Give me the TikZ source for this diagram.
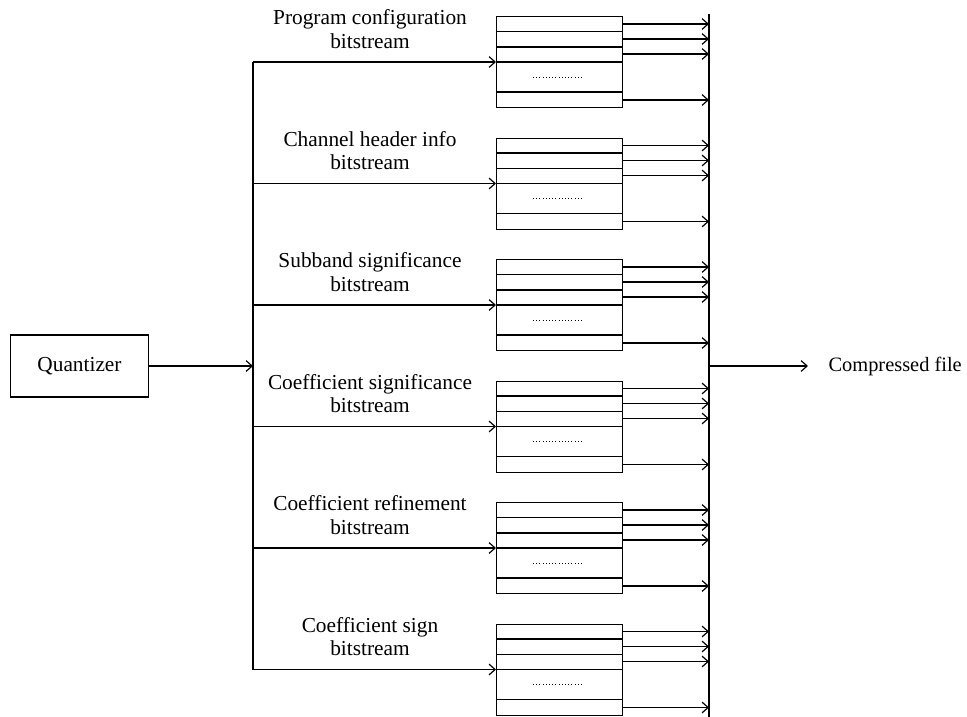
\documentclass[tikz,border=0pt]{standalone}
\usepackage{fontspec}
\setmainfont{Liberation Serif}
\usetikzlibrary{arrows.meta,calc}

\begin{document}
\begin{tikzpicture}[
   x=0.75pt, y=-0.75pt,
   line width=0.9pt,
   font=\fontsize{16}{17.5}\selectfont,
   >={Straight Barb[length=4.5pt,width=8pt]},
   quantbox/.style={draw, rectangle, minimum width=103pt, minimum height=46.5pt,
                    inner sep=0},
   bufbox/.style={draw, rectangle, anchor=north west, minimum width=94.5pt,
                  minimum height=68.25pt, inner sep=0},
   streamlabel/.style={align=center, inner sep=0}
  ]
  \useasboundingbox (0,0) rectangle (967,717);

  % Branch spacing
  \pgfmathsetmacro{\d}{121.5}

  \node (quant) at (79.5,366) [quantbox] {Quantizer};
  \coordinate (lbus) at (253,366);
  \coordinate (rtop) at (709,14);
  \coordinate (rbot) at (709,717);
  \coordinate (rmid) at (709,366);
  \node (out) at (808,366) [anchor=west, inner ysep=0, inner xsep=15pt,
                            font=\fontsize{15.3}{17.5}\selectfont] {Compressed file};

  \foreach \i/\txt in {0/{Program configuration\\bitstream},
                       1/{Channel header info\\bitstream},
                       2/{Subband significance\\bitstream},
                       3/{Coefficient significance\\bitstream},
                       4/{Coefficient refinement\\bitstream},
                       5/{Coefficient sign\\bitstream}} {
    \pgfmathsetmacro{\yb}{62 + \i * \d}
    \node (buf\i) at (496, \yb - 46) [bufbox] {};
    \node (lab\i) at (370, \yb - 33) [streamlabel] {\txt};
    \coordinate (in\i) at (253, \yb);
    \draw[->] (in\i) -- (buf\i.west |- in\i);
    \foreach \r in {15.5, 31, 46, 76} {
      \draw ($(buf\i.north west) + (0, \r)$) -- ($(buf\i.north east) + (0, \r)$);
    }
    \draw[dotted, line width=0.4pt] ($(buf\i.north west) + (37, 61)$) -- ++(50, 0);
    \foreach \r in {8, 23, 38, 84} {
      \coordinate (o) at ($(buf\i.north east) + (0, \r)$);
      \draw[->] (o) -- (o -| rtop);
    }
  }

  \draw (in0) -- (in5);
  \draw[->] (quant) -- (lbus);
  \draw (rtop) -- (rbot);
  \draw[->] (rmid) -- (out.west);

\end{tikzpicture}
\end{document}
